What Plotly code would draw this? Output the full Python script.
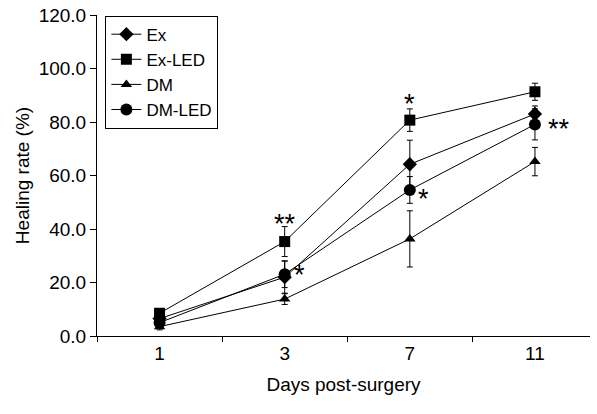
import plotly.graph_objects as go

days = ["1", "3", "7", "11"]
ex = [6.5, 22.0, 64.2, 83.0]
ex_err = [1.5, 6.0, 9.0, 3.0]
ex_led = [8.5, 35.3, 80.7, 91.3]
ex_led_err = [1.5, 5.6, 4.2, 3.2]
dm = [3.5, 13.8, 36.3, 65.2]
dm_err = [1.2, 2.0, 10.5, 5.3]
dm_led = [5.0, 23.1, 54.6, 79.1]
dm_led_err = [1.5, 5.0, 5.0, 5.8]

series = [
    ("Ex", ex, ex_err, "diamond", 11),
    ("Ex-LED", ex_led, ex_led_err, "square", 11),
    ("DM", dm, dm_err, "triangle-up", 10),
    ("DM-LED", dm_led, dm_led_err, "circle", 12),
]

fig = go.Figure()
for name, vals, errs, sym, sz in series:
    fig.add_trace(go.Scatter(
        x=days, y=vals, name=name, mode="lines+markers",
        line=dict(color="black", width=1),
        marker=dict(symbol=sym, size=sz, color="black"),
        error_y=dict(type="data", array=errs, visible=True, color="black", thickness=1, width=3),
    ))

# significance marks: (category index, anchor value, text, xshift, yshift)
stars = [
    (1, 35.3, "**", 0, 18),
    (1, 23.1, "*", 15, -1),
    (2, 80.7, "*", 0, 16),
    (2, 54.6, "*", 14, -9),
    (3, 79.1, "**", 24, -5),
]
for x, y, t, xs, ys in stars:
    fig.add_annotation(x=x, y=y, xref="x", yref="y", text=t, showarrow=False,
                       xshift=xs, yshift=ys,
                       font=dict(size=27, color="black", family="Liberation Sans, Arial"))

fig.update_layout(
    width=597, height=414,
    margin=dict(l=97, r=7, t=15, b=78),
    paper_bgcolor="white", plot_bgcolor="white",
    font=dict(family="Liberation Sans, Arial", size=19, color="black"),
    showlegend=True,
    legend=dict(x=0.017, y=0.998, xanchor="left", yanchor="top",
                bordercolor="black", borderwidth=1, bgcolor="white",
                font=dict(size=17), tracegroupgap=0, itemwidth=30),
    xaxis=dict(type="category", categoryorder="array", categoryarray=days,
               range=[-0.5, 3.44], showline=True, linecolor="black", linewidth=1,
               ticks="outside", tickson="boundaries", ticklen=5, tickcolor="black",
               showgrid=False, zeroline=False, automargin=False,
               tickfont=dict(size=19),
               title=dict(text="Days post-surgery", font=dict(size=19), standoff=14)),
    yaxis=dict(range=[0, 120], tickvals=[0, 20, 40, 60, 80, 100, 120], tickformat=".1f",
               showline=True, linecolor="black", linewidth=1,
               ticks="outside", ticklen=6, tickcolor="black",
               showgrid=False, zeroline=False, automargin=False,
               tickfont=dict(size=19),
               title=dict(text="Healing rate (%)", font=dict(size=19), standoff=4)),
)

# remove the browser's default 8px body margin so the figure sits at the page origin
fig.write_html("out.html", config={"displayModeBar": False},
               post_script="document.body.style.margin='0';")
